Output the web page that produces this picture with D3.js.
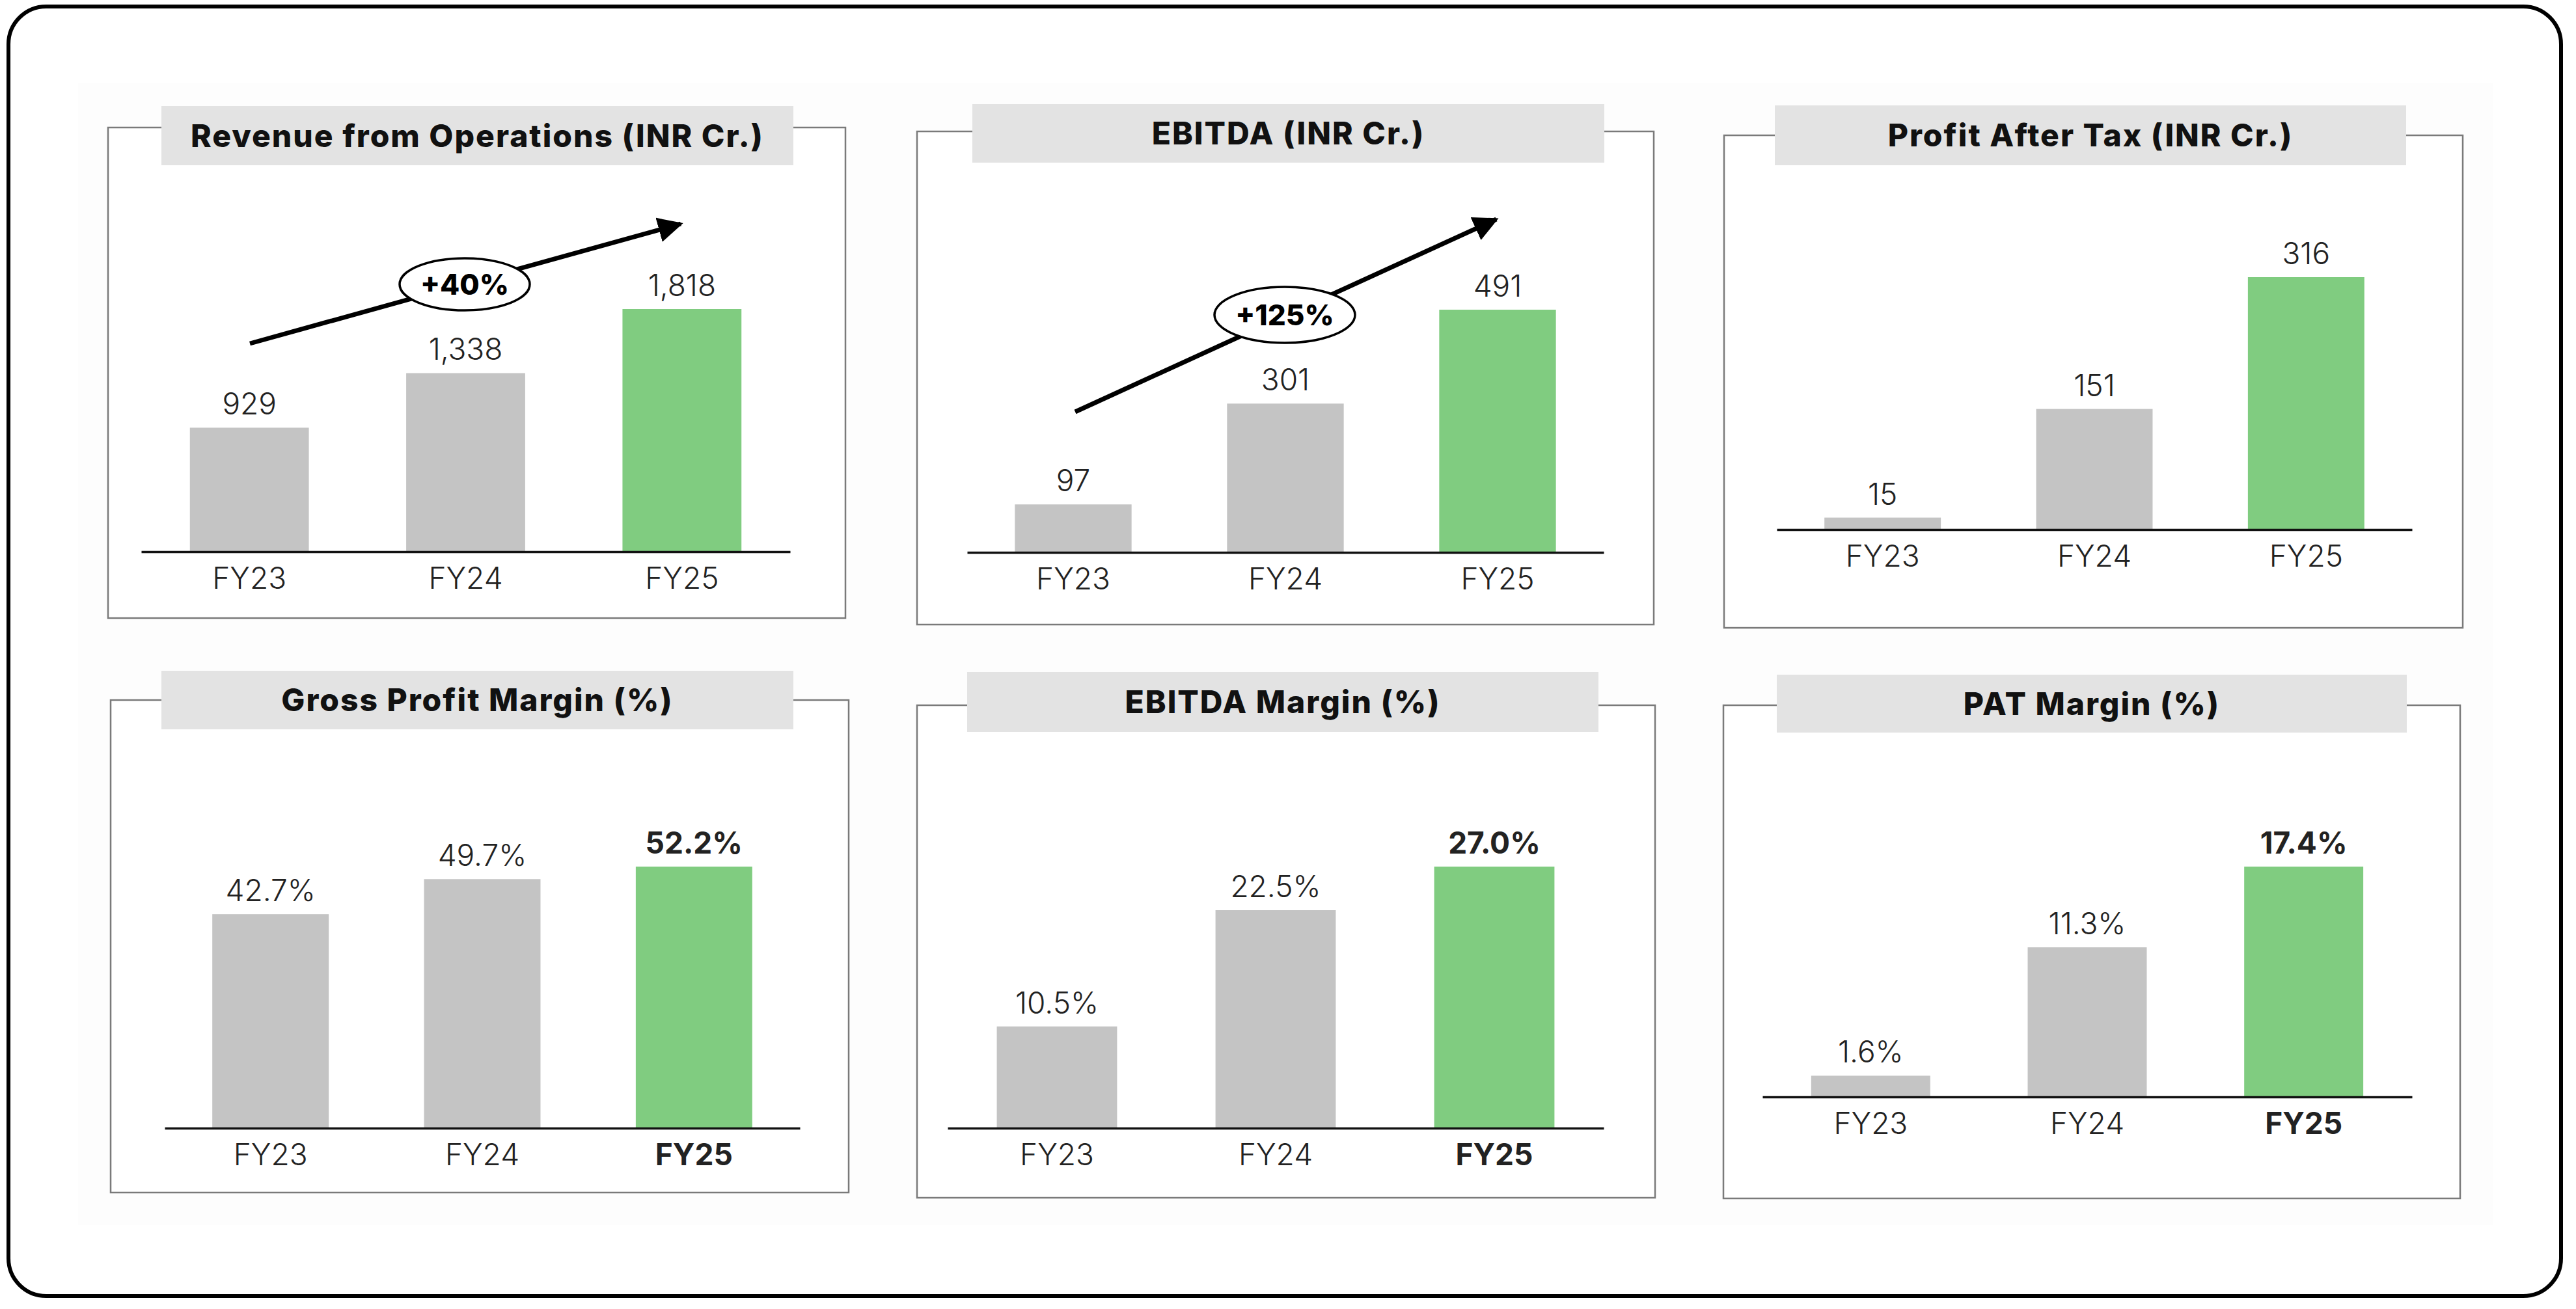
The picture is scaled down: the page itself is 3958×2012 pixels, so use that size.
<!DOCTYPE html>
<html>
<head>
<meta charset="utf-8">
<script src="https://cdn.jsdelivr.net/npm/d3@7"></script>
<style>
  html, body { margin: 0; padding: 0; background: #ffffff; }
  svg { display: block; }
  text { font-family: Inter, "Open Sans", "Noto Sans", sans-serif; }
</style>
</head>
<body>
<svg id="chart" width="3958" height="2012"></svg>
<script>
// ---------- DATA ----------
const categories = ["FY23", "FY24", "FY25"];
const revenue = [929, 1338, 1818];
const ebitda = [97, 301, 491];
const pat = [15, 151, 316];
const grossMargin = [42.7, 49.7, 52.2];
const ebitdaMargin = [10.5, 22.5, 27.0];
const patMargin = [1.6, 11.3, 17.4];
const titles = [
  "Revenue from Operations (INR Cr.)",
  "EBITDA (INR Cr.)",
  "Profit After Tax (INR Cr.)",
  "Gross Profit Margin (%)",
  "EBITDA Margin (%)",
  "PAT Margin (%)"
];
const growthLabels = ["+40%", "+125%"];

// ---------- STYLE / LAYOUT ----------
const GRAY = "#c4c4c4";
const GREEN = "#80cc80";
const fmtInt = d3.format(",");
const fmtPct = d => d.toFixed(1) + "%";

const panels = [
  { title: titles[0], values: revenue, fmt: fmtInt, pct: false,
    box: [166, 196, 1299, 950], banner: [248, 163, 1219, 254],
    axisY: 848, x0: 217, x1: 1214, topY: 475,
    arrow: { from: [384, 528], to: [1046, 344], label: growthLabels[0], c: [714, 437], rx: 100, ry: 40 } },
  { title: titles[1], values: ebitda, fmt: fmtInt, pct: false,
    box: [1409, 202, 2541, 960], banner: [1494, 160, 2465, 250],
    axisY: 849, x0: 1486, x1: 2464, topY: 476,
    arrow: { from: [1652, 633], to: [2299, 337], label: growthLabels[1], c: [1974, 484], rx: 108, ry: 43 } },
  { title: titles[2], values: pat, fmt: fmtInt, pct: false,
    box: [2649, 208, 3784, 965], banner: [2727, 162, 3697, 254],
    axisY: 814, x0: 2730, x1: 3706, topY: 426 },
  { title: titles[3], values: grossMargin, fmt: fmtPct, pct: true,
    box: [170, 1076, 1304, 1833], banner: [248, 1031, 1219, 1121],
    axisY: 1734, x0: 253, x1: 1229, topY: 1332 },
  { title: titles[4], values: ebitdaMargin, fmt: fmtPct, pct: true,
    box: [1409, 1084, 2543, 1841], banner: [1486, 1033, 2456, 1125],
    axisY: 1734, x0: 1456, x1: 2464, topY: 1332 },
  { title: titles[5], values: patMargin, fmt: fmtPct, pct: true,
    box: [2648, 1084, 3780, 1842], banner: [2730, 1037, 3698, 1126],
    axisY: 1686, x0: 2708, x1: 3706, topY: 1332 }
];

const svg = d3.select("#chart");

// outer rounded frame
svg.append("rect")
  .attr("x", 13).attr("y", 10).attr("width", 3922).attr("height", 1982)
  .attr("rx", 58).attr("ry", 58)
  .attr("fill", "#ffffff").attr("stroke", "#000").attr("stroke-width", 6);

// faint content backdrop
svg.append("rect")
  .attr("x", 120).attr("y", 128).attr("width", 3710).attr("height", 1755)
  .attr("fill", "#fdfdfd");

// arrow marker
const defs = svg.append("defs");
defs.append("marker")
  .attr("id", "arrowhead")
  .attr("viewBox", "0 0 10 10")
  .attr("refX", 9).attr("refY", 5)
  .attr("markerWidth", 5.5).attr("markerHeight", 5.5)
  .attr("markerUnits", "strokeWidth")
  .attr("orient", "auto")
  .append("path").attr("d", "M0,0 L10,5 L0,10 Z").attr("fill", "#000");

panels.forEach(p => {
  const g = svg.append("g");

  // panel box
  const [bx0, by0, bx1, by1] = p.box;
  g.append("rect")
    .attr("x", bx0).attr("y", by0).attr("width", bx1 - bx0).attr("height", by1 - by0)
    .attr("fill", "#ffffff").attr("stroke", "#7a7a7a").attr("stroke-width", 2.5);

  // title banner
  const [tx0, ty0, tx1, ty1] = p.banner;
  g.append("rect")
    .attr("x", tx0).attr("y", ty0).attr("width", tx1 - tx0).attr("height", ty1 - ty0)
    .attr("fill", "#e3e3e3");
  g.append("text")
    .attr("x", (tx0 + tx1) / 2).attr("y", (ty0 + ty1) / 2 + 17)
    .attr("text-anchor", "middle")
    .attr("font-size", 48).attr("font-weight", 800).attr("fill", "#111")
    .attr("letter-spacing", 2)
    .text(p.title);

  // scales
  const x = d3.scaleBand().domain(categories).range([p.x0, p.x1])
    .paddingInner(0.45).paddingOuter(0.225);
  const y = d3.scaleLinear().domain([0, d3.max(p.values)]).range([p.axisY, p.topY]);

  const data = categories.map((c, i) => ({ c, v: p.values[i], last: i === categories.length - 1 }));

  // bars
  g.selectAll("rect.bar").data(data).join("rect")
    .attr("class", "bar")
    .attr("x", d => x(d.c)).attr("width", x.bandwidth())
    .attr("y", d => y(d.v)).attr("height", d => y(0) - y(d.v))
    .attr("fill", d => d.last ? GREEN : GRAY);

  // x axis (baseline + category labels)
  const axis = d3.axisBottom(x).tickSize(0).tickPadding(24);
  const ax = g.append("g").attr("transform", `translate(0,${p.axisY})`).call(axis);
  ax.select(".domain").attr("stroke", "#111").attr("stroke-width", 3.5);
  ax.selectAll(".tick text")
    .attr("font-size", 46).attr("fill", "#222")
    .attr("font-weight", (d, i) => (p.pct && i === 2) ? 700 : 300)
    .attr("font-family", "Inter, 'Open Sans', sans-serif");

  // value labels
  g.selectAll("text.val").data(data).join("text")
    .attr("class", "val")
    .attr("x", d => x(d.c) + x.bandwidth() / 2)
    .attr("y", d => y(d.v) - 20)
    .attr("text-anchor", "middle")
    .attr("font-size", 46)
    .attr("font-weight", d => (p.pct && d.last) ? 700 : 300)
    .attr("fill", "#222")
    .text(d => p.fmt(d.v));

  // growth arrow
  if (p.arrow) {
    const a = p.arrow;
    g.append("line")
      .attr("x1", a.from[0]).attr("y1", a.from[1])
      .attr("x2", a.to[0]).attr("y2", a.to[1])
      .attr("stroke", "#000").attr("stroke-width", 7)
      .attr("marker-end", "url(#arrowhead)");
    g.append("ellipse")
      .attr("cx", a.c[0]).attr("cy", a.c[1]).attr("rx", a.rx).attr("ry", a.ry)
      .attr("fill", "#fff").attr("stroke", "#000").attr("stroke-width", 3.5);
    g.append("text")
      .attr("x", a.c[0]).attr("y", a.c[1] + 16)
      .attr("text-anchor", "middle")
      .attr("font-size", 44).attr("font-weight", 800).attr("fill", "#000")
      .text(a.label);
  }
});
</script>
</body>
</html>
